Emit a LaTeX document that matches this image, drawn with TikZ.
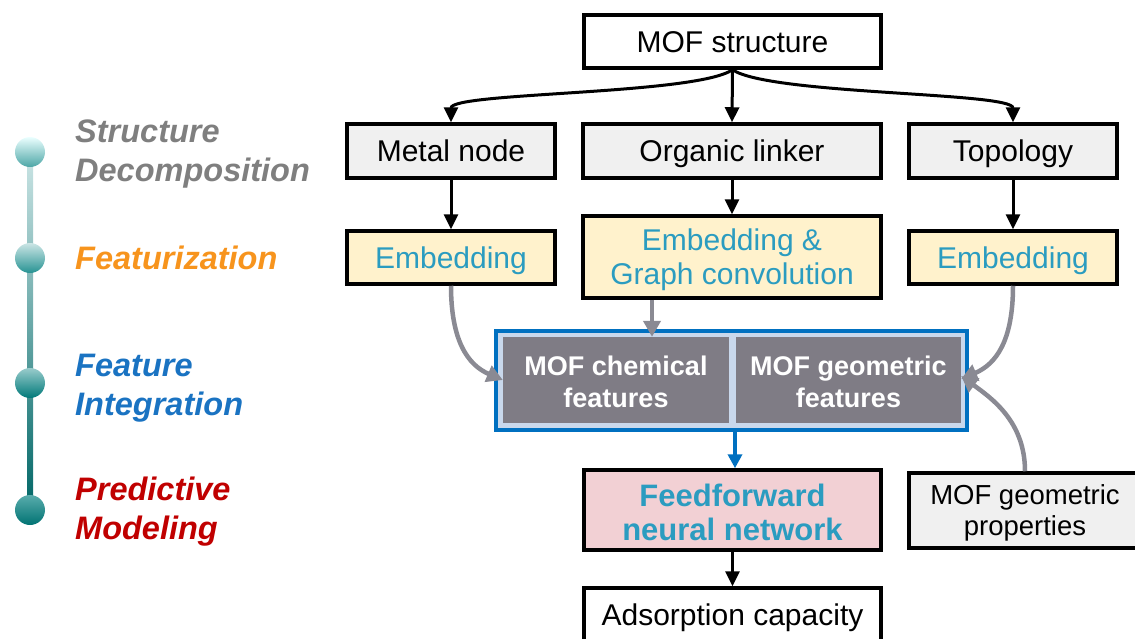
\documentclass[tikz,border=0pt]{standalone}
\usepackage{fontspec}
\setmainfont{Liberation Sans}
\usetikzlibrary{arrows.meta}
\definecolor{tealtxt}{HTML}{2B9CC0}
\definecolor{yel}{HTML}{FFF2CC}
\definecolor{pinkf}{HTML}{F2D0D4}
\definecolor{grayf}{HTML}{7F7C85}
\definecolor{lgray}{HTML}{F0F0F0}
\definecolor{outerf}{HTML}{C9D8EC}
\definecolor{blueb}{HTML}{0070C0}
\definecolor{garrow}{HTML}{8A8A93}
\definecolor{sgray}{HTML}{7F7F7F}
\definecolor{sorange}{HTML}{F7941D}
\definecolor{sblue}{HTML}{1A73C2}
\definecolor{sred}{HTML}{C00000}
\tikzset{
  box/.style={draw=black, line width=3.5pt, inner sep=0pt, align=center,
    font=\fontsize{30}{34}\selectfont},
  oneline/.style={text height=21.5pt, text depth=0pt},
  embox/.style={box, fill=yel, text=tealtxt},
  featbox/.style={fill=grayf, text=white, inner sep=0pt, align=center,
    font=\fontsize{27}{32}\bfseries\selectfont},
  blk/.style={line width=3pt, draw=black, -{Triangle[length=15pt,width=14pt]}},
  gry/.style={line width=4.5pt, draw=garrow, -{Triangle[length=16pt,width=17pt]}},
  stage/.style={anchor=west, align=left, inner sep=0pt,
    font=\fontsize{32.5}{39}\bfseries\itshape\selectfont},
}
\begin{document}
\begin{tikzpicture}[x=1pt,y=-1pt]
\useasboundingbox (0,0) rectangle (1135,638);
% timeline
\shade[top color=teal!20!white, bottom color=teal!80!black] (27,152) rectangle (33,510);
\shade[top color=cyan!8!white, middle color=teal!25!white, bottom color=teal!70!white] (30,152) circle (15);
\shade[top color=teal!20!white, middle color=teal!45!white, bottom color=teal!85!white] (30,258) circle (15);
\shade[top color=teal!40!white, middle color=teal!75!white, bottom color=teal!95!black] (30,383) circle (15);
\shade[top color=teal!65!white, middle color=teal!85!white, bottom color=teal!90!black] (30,510) circle (15);
\node[stage, text=sgray] (s1) at (75,154) {Structure\\Decomposition};
\node[stage, text=sorange] (s2) at (75,258) {Featurization};
\node[stage, text=sblue] (s3) at (75,388) {Feature\\Integration};
\node[stage, text=sred] (s4) at (75,512) {Predictive\\Modeling};
% boxes
\node[box, oneline, fill=white, minimum width=297pt, minimum height=53pt] (mofs) at (732.5,41.5) {MOF structure};
\node[box, oneline, fill=lgray, minimum width=208pt, minimum height=54pt] (metal) at (451,151) {Metal node};
\node[box, oneline, fill=lgray, minimum width=298pt, minimum height=54pt] (linker) at (732,151) {Organic linker};
\node[box, oneline, fill=lgray, minimum width=208pt, minimum height=54pt] (topo) at (1013,151) {Topology};
\node[embox, oneline, minimum width=208pt, minimum height=53pt] (emb1) at (451,257.5) {Embedding};
\node[embox, minimum width=298pt, minimum height=82pt] (emb2) at (732,257) {};
\node[embox, draw=none, fill=none, anchor=center] (emb2t) at (732,260) {Embedding \&\\Graph convolution};
\node[embox, oneline, minimum width=208pt, minimum height=53pt] (emb3) at (1013,257.5) {Embedding};
\node[draw=blueb, line width=4pt, fill=outerf, minimum width=471pt, minimum height=99pt, inner sep=0pt] (integ) at (731.5,380.5) {};
\node[featbox, minimum width=226pt, minimum height=86pt] (chem) at (616,380) {};
\node[featbox] (chemt) at (616,382) {MOF chemical\\features};
\node[featbox, minimum width=225pt, minimum height=86pt] (geo) at (848.5,380) {};
\node[featbox] (geot) at (848.5,382) {MOF geometric\\features};
\node[box, fill=pinkf, minimum width=297pt, minimum height=80pt] (ffn) at (732.5,510) {};
\node[text=tealtxt, font=\fontsize{31}{34}\bfseries\selectfont, align=center, inner sep=0pt] (ffnt) at (732.5,512) {Feedforward\\neural network};
\node[box, fill=lgray, minimum width=232pt, minimum height=75pt] (prop) at (1025,510.5) {};
\node[font=\fontsize{27.5}{31}\selectfont, align=center, inner sep=0pt] (propt) at (1025,512.5) {MOF geometric\\properties};
\node[box, oneline, fill=white, minimum width=297pt, minimum height=54pt] (ads) at (732.5,615) {Adsorption capacity};
% connectors
\draw[blk] (mofs.south) .. controls (695,95) and (451,92) .. (metal.north);
\draw[blk] (mofs.south) .. controls (770,95) and (1013,92) .. (topo.north);
\draw[blk] (mofs.south) -- (linker.north);
\draw[blk] (metal.south) -- (emb1.north);
\draw[blk] (linker.south) -- (emb2.north);
\draw[blk] (topo.south) -- (emb3.north);
\draw[gry] (emb1.south) .. controls +(0,55) and +(-35,-15) .. (chem.west);
\coordinate (emb2b) at (emb2.south -| 652,0);
\coordinate (chemtop) at (chem.north -| 652,0);
\draw[gry] (emb2b) -- (chemtop);
\draw[gry] (emb3.south) .. controls +(0,55) and +(35,-15) .. ([yshift=1pt]geo.east);
\coordinate (proptop) at (prop.north -| 1025,0);
\draw[gry] (proptop) .. controls +(0,-50) and +(30,22) .. ([yshift=4pt]geo.east);
\coordinate (integb) at (integ.south -| 735,0);
\coordinate (ffntop) at (ffn.north -| 735,0);
\draw[line width=4pt, draw=blueb, -{Triangle[length=14pt,width=14pt]}] (integb) -- (ffntop);
\draw[blk] (ffn.south) -- (ads.north);
\end{tikzpicture}
\end{document}
